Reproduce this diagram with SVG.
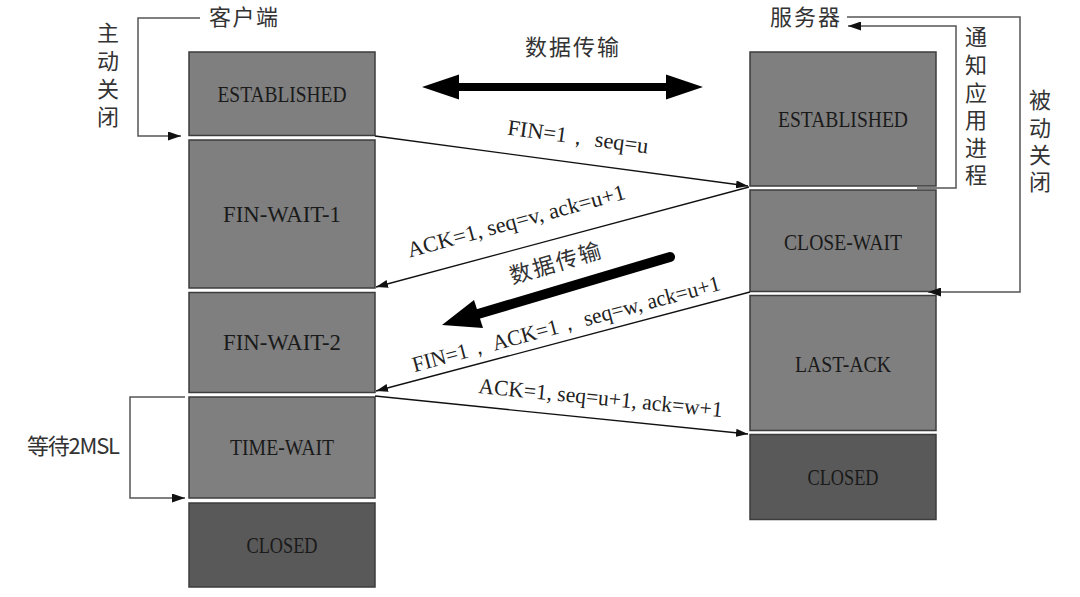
<svg xmlns="http://www.w3.org/2000/svg" width="1080" height="597" viewBox="0 0 1080 597">
<defs>
<marker id="ah" markerUnits="userSpaceOnUse" markerWidth="12" markerHeight="8" refX="12" refY="4" orient="auto">
<path d="M0,0 L12,4 L0,8 Z" fill="#111"/>
</marker>
<marker id="bh" markerUnits="userSpaceOnUse" markerWidth="13" markerHeight="9" refX="13" refY="4.5" orient="auto">
<path d="M0,0 L13,4.5 L0,9 Z" fill="#111"/>
</marker>
<style>
.box{fill:#7f7f7f;stroke:#3c3c3c;stroke-width:1.5}
.closed{fill:#595959;stroke:#3c3c3c;stroke-width:1.5}
.st{font-family:"Liberation Serif",serif;font-size:24px;fill:#1a1a1a;text-anchor:middle}
.msg{font-family:"Liberation Serif",serif;font-size:22px;fill:#222;text-anchor:middle}
.cn{font-family:"Noto Sans CJK SC","Noto Sans",sans-serif;font-size:22px;fill:#333}
.v{writing-mode:vertical-rl;text-orientation:upright}
.line{fill:none;stroke:#111;stroke-width:1.3}
.br{fill:none;stroke:#555;stroke-width:1.5}
</style>
</defs>
<rect width="1080" height="597" fill="#fff"/>

<g id="client-established"><rect class="box" x="189" y="52" width="186" height="83.5"/><text class="st" x="282" y="101.5" textLength="129" lengthAdjust="spacingAndGlyphs">ESTABLISHED</text></g>
<g id="fin-wait-1"><rect class="box" x="189" y="140" width="186" height="148"/><text class="st" x="282" y="222" textLength="118" lengthAdjust="spacingAndGlyphs">FIN-WAIT-1</text></g>
<g id="fin-wait-2"><rect class="box" x="189" y="292.5" width="186" height="100"/><text class="st" x="282" y="350" textLength="118" lengthAdjust="spacingAndGlyphs">FIN-WAIT-2</text></g>
<g id="time-wait"><rect class="box" x="189" y="397" width="186" height="101"/><text class="st" x="282" y="454.5" textLength="104" lengthAdjust="spacingAndGlyphs">TIME-WAIT</text></g>
<g id="client-closed"><rect class="closed" x="189" y="503" width="186" height="84"/><text class="st" x="282" y="552.5" textLength="71" lengthAdjust="spacingAndGlyphs">CLOSED</text></g>

<g id="server-established"><rect class="box" x="750" y="52" width="186" height="134"/><text class="st" x="843" y="127" textLength="130" lengthAdjust="spacingAndGlyphs">ESTABLISHED</text></g>
<g id="close-wait"><rect class="box" x="750" y="190" width="186" height="101.5"/><text class="st" x="843" y="249.5" textLength="118" lengthAdjust="spacingAndGlyphs">CLOSE-WAIT</text></g>
<g id="last-ack"><rect class="box" x="750" y="295.5" width="186" height="135"/><text class="st" x="843" y="371.5" textLength="96" lengthAdjust="spacingAndGlyphs">LAST-ACK</text></g>
<g id="server-closed"><rect class="closed" x="750" y="434.5" width="186" height="85"/><text class="st" x="843" y="484.5" textLength="71" lengthAdjust="spacingAndGlyphs">CLOSED</text></g>

<g id="labels">
<text class="cn" x="209" y="25" textLength="69">客户端</text>
<text class="cn" x="770" y="25" textLength="70">服务器</text>
<text class="cn" x="572" y="55" text-anchor="middle" textLength="94">数据传输</text>
<text class="cn v" x="108" y="22" letter-spacing="6">主动关闭</text>
<text class="cn v" x="976" y="26" letter-spacing="5.6">通知应用进程</text>
<text class="cn v" x="1040" y="89" letter-spacing="5.3">被动关闭</text>
<text class="cn" x="27" y="454" textLength="93">等待2MSL</text>
<text class="cn" text-anchor="middle" transform="translate(555,263) rotate(-16.5)" y="8" textLength="94">数据传输</text>
<text class="msg" transform="translate(577,144) rotate(7.7)" textLength="142" lengthAdjust="spacingAndGlyphs">FIN=1， seq=u</text>
<text class="msg" transform="translate(518,228) rotate(-15.2)" textLength="225" lengthAdjust="spacingAndGlyphs">ACK=1, seq=v, ack=u+1</text>
<text class="msg" transform="translate(568,331) rotate(-15)" textLength="318" lengthAdjust="spacingAndGlyphs">FIN=1， ACK=1， seq=w, ack=u+1</text>
<text class="msg" transform="translate(600,405) rotate(5.6)" textLength="245" lengthAdjust="spacingAndGlyphs">ACK=1, seq=u+1, ack=w+1</text>
</g>

<g id="connectors">
<line class="line" x1="375" y1="136" x2="748" y2="186" marker-end="url(#ah)"/>
<line class="line" x1="749" y1="187" x2="376" y2="287" marker-end="url(#ah)"/>
<line class="line" x1="750" y1="292" x2="376" y2="391" marker-end="url(#ah)"/>
<line class="line" x1="375" y1="396" x2="748" y2="434" marker-end="url(#ah)"/>
<polyline class="br" points="200,18 138,18 138,136 181,136" marker-end="url(#bh)"/>
<polyline class="br" points="847,17 1020,17 1020,292 928,292" marker-end="url(#bh)"/>
<polyline class="br" points="917,188 956,188 956,26 848,26" marker-end="url(#bh)"/>
<polyline class="br" points="185,397 130,397 130,498 185,498" marker-end="url(#bh)"/>
<path d="M422,87 L459,74.5 L459,83 L666,83 L666,74.5 L703,87 L666,99.5 L666,91 L459,91 L459,99.5 Z" fill="#000"/>
<line x1="670" y1="257" x2="478" y2="314" stroke="#000" stroke-width="10" stroke-linecap="round"/>
<path d="M442,325 L474,300 L483,328 Z" fill="#000"/>
</g>
</svg>
